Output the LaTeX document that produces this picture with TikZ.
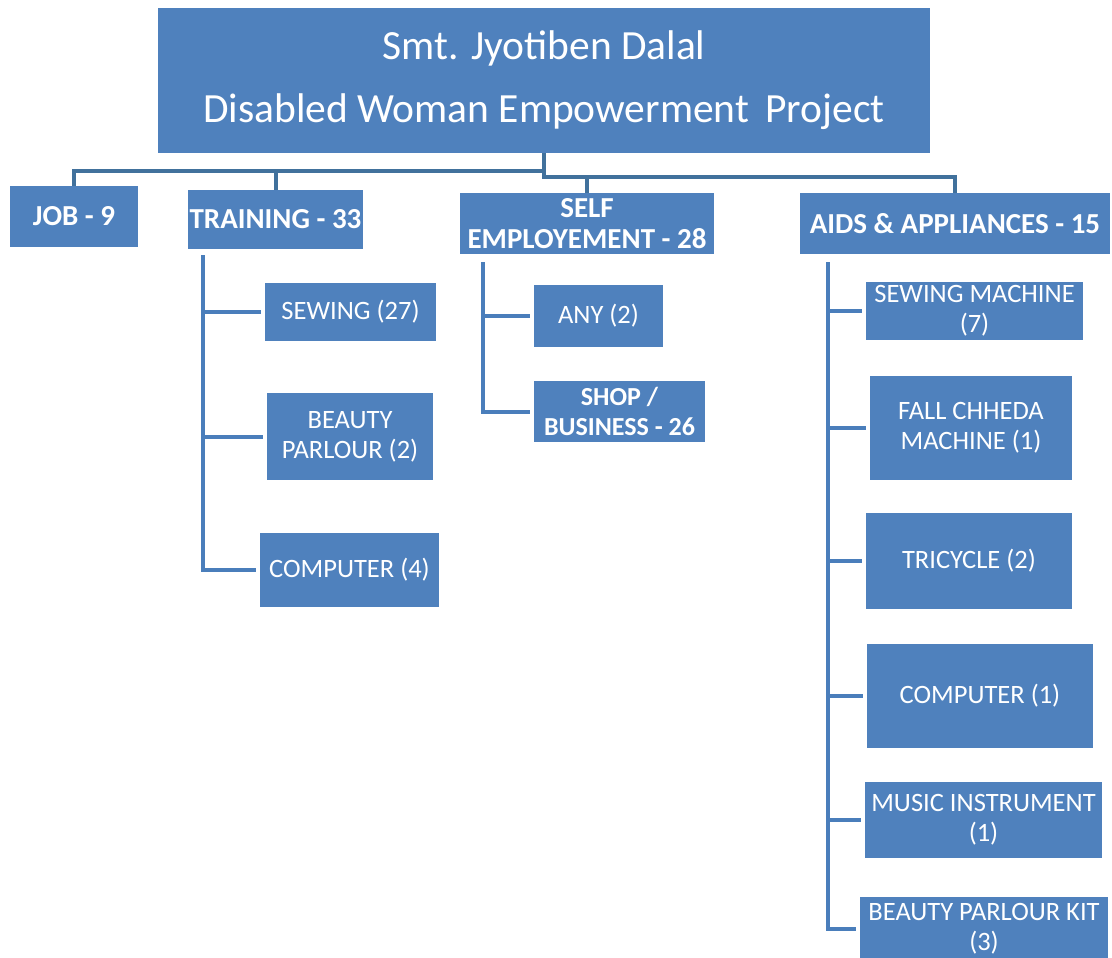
\documentclass[tikz,border=0pt]{standalone}
\usepackage{fontspec}
\setmainfont{Carlito}
\definecolor{boxblue}{HTML}{4F81BD}
\definecolor{linkblue}{HTML}{4A7EBB}
\definecolor{topblue}{HTML}{41719C}
\begin{document}
\begin{tikzpicture}[x=1pt,y=-1pt,
  box/.style={fill=boxblue, text=white, inner sep=0pt, align=center, anchor=center},
  bigbox/.style={box, font=\fontsize{41.5}{63}\selectfont},
  headbox/.style={box, font=\fontsize{29}{31}\selectfont\bfseries},
  leafbox/.style={box, font=\fontsize{26.5}{30}\selectfont},
  topline/.style={draw=topblue, line width=4pt},
  link/.style={draw=linkblue, line width=4pt, shorten >=4pt}]
\useasboundingbox (0,0) rectangle (1112,958);
% title
\node[bigbox, minimum width=772pt, minimum height=145pt] (title) at (544,80.5)
  {Smt. Jyotiben Dalal\\Disabled Woman Empowerment\, Project};
% level 1
\node[headbox, minimum width=128pt, minimum height=61pt] (job) at (74,216.5) {JOB - 9};
\node[headbox, minimum width=175pt, minimum height=59pt] (training) at (275.5,219.5) {TRAINING - 33};
\node[headbox, minimum width=254pt, minimum height=61pt] (self) at (587,223.5) {SELF\\EMPLOYEMENT - 28};
\node[headbox, minimum width=310pt, minimum height=61pt] (aids) at (955,223.5) {AIDS \& APPLIANCES - 15};
% training children
\node[leafbox, minimum width=171pt, minimum height=58pt] (sewing) at (350.5,312) {SEWING (27)};
\node[leafbox, minimum width=166pt, minimum height=87pt] (beauty) at (350,436.5) {BEAUTY\\PARLOUR (2)};
\node[leafbox, minimum width=179pt, minimum height=74pt] (comp) at (349.5,570) {COMPUTER (4)};
% self employment children
\node[leafbox, minimum width=129pt, minimum height=62pt] (any) at (598.5,316) {ANY (2)};
\node[headbox, font=\fontsize{26}{30}\selectfont\bfseries, minimum width=171pt, minimum height=61pt] (shop) at (619.5,411.5) {SHOP /\\BUSINESS - 26};
% aids children
\node[leafbox, minimum width=217pt, minimum height=58pt] (sm) at (974.5,311) {SEWING MACHINE\\(7)};
\node[leafbox, minimum width=202pt, minimum height=104pt] (fc) at (971,428) {FALL CHHEDA\\MACHINE (1)};
\node[leafbox, minimum width=206pt, minimum height=96pt] (tri) at (969,561) {TRICYCLE (2)};
\node[leafbox, minimum width=226pt, minimum height=104pt] (ac) at (980,696) {COMPUTER (1)};
\node[leafbox, minimum width=237pt, minimum height=76pt] (mu) at (983.5,820) {MUSIC INSTRUMENT\\(1)};
\node[leafbox, minimum width=248pt, minimum height=64pt] (bk) at (984,929) {BEAUTY PARLOUR KIT\\(3)};
% top connectors
\draw[topline] (title.south) -- ([yshift=-24pt]title.south) -| (aids.north);
\draw[topline] ([yshift=-24pt]title.south) -| (self.north);
\draw[topline] ([yshift=-18pt]title.south) -| (job.north);
\draw[topline] ([yshift=-18pt]title.south) -| (training.north);
% training branch
\coordinate (tr0) at ([xshift=15pt,yshift=-6pt]training.south west);
\draw[link] (tr0) |- (sewing.west);
\draw[link] (tr0) |- (beauty.west);
\draw[link] (tr0) |- (comp.west);
% self branch
\coordinate (se0) at ([xshift=23pt,yshift=-8pt]self.south west);
\draw[link] (se0) |- (any.west);
\draw[link] (se0) |- (shop.west);
% aids branch
\coordinate (ai0) at ([xshift=28pt,yshift=-8pt]aids.south west);
\draw[link] (ai0) |- (sm.west);
\draw[link] (ai0) |- (fc.west);
\draw[link] (ai0) |- (tri.west);
\draw[link] (ai0) |- (ac.west);
\draw[link] (ai0) |- (mu.west);
\draw[link] (ai0) |- (bk.west);
\end{tikzpicture}
\end{document}
